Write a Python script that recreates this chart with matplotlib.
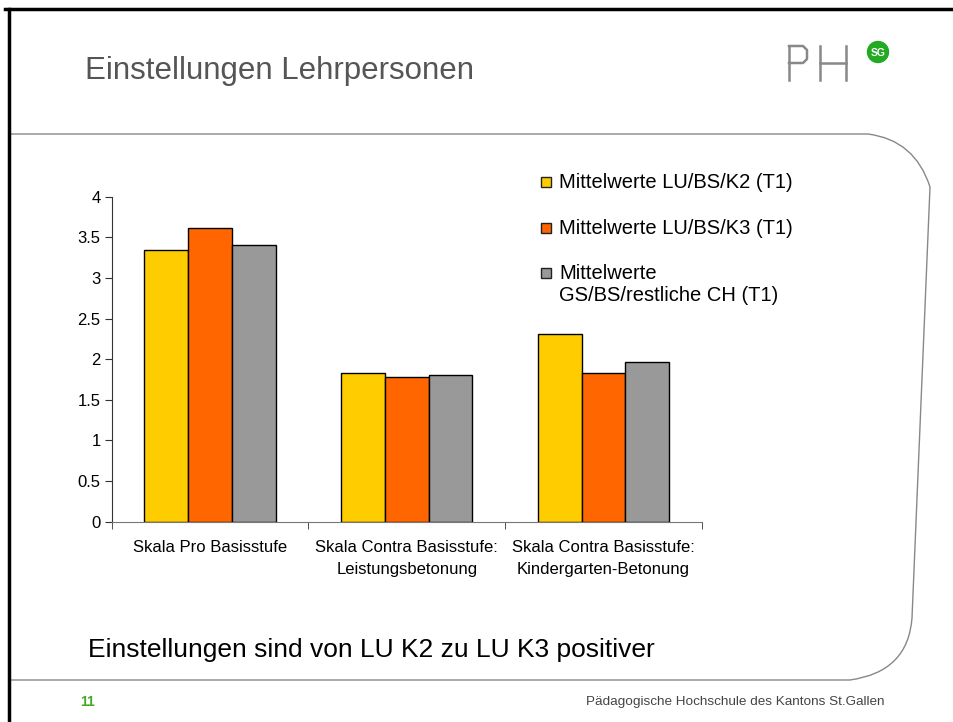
import numpy as np
import matplotlib.pyplot as plt
from matplotlib.patches import Rectangle, Circle
from matplotlib.path import Path
from matplotlib.patches import PathPatch

plt.rcParams['font.family'] = ['Liberation Sans', 'DejaVu Sans']

# data
categories = ['Skala Pro Basisstufe',
              'Skala Contra Basisstufe:\nLeistungsbetonung',
              'Skala Contra Basisstufe:\nKindergarten-Betonung']
series_names = ['Mittelwerte LU/BS/K2 (T1)',
                'Mittelwerte LU/BS/K3 (T1)',
                'Mittelwerte\nGS/BS/restliche CH (T1)']
k2_values = [3.34, 1.83, 2.31]
k3_values = [3.61, 1.78, 1.83]
ch_values = [3.41, 1.81, 1.97]
colors = ['#FFCC00', '#FF6600', '#999999']
y_ticks = [0, 0.5, 1, 1.5, 2, 2.5, 3, 3.5, 4]

fig = plt.figure(figsize=(9.54, 7.22), dpi=100)

# slide frame (pixel coords)
W, H = 954, 722
def fx(x): return x / W
def fy(y): return 1 - y / H

frame = fig.add_axes([0, 0, 1, 1])
frame.set_xlim(0, W)
frame.set_ylim(H, 0)
frame.axis('off')
frame.plot([5, 954], [9, 9], color='black', lw=2.5)
frame.plot([9, 9], [9, 722], color='black', lw=2.5)

verts = [(10, 134), (868, 134),
         (915, 140), (930, 187),
         (912, 618),
         (908, 672), (850, 680),
         (10, 680)]
codes = [Path.MOVETO, Path.LINETO,
         Path.CURVE3, Path.CURVE3,
         Path.LINETO,
         Path.CURVE3, Path.CURVE3,
         Path.LINETO]
frame.add_patch(PathPatch(Path(verts, codes), facecolor='none', edgecolor='#888888', lw=1))

frame.text(85, 71, 'Einstellungen Lehrpersonen', fontsize=22.5, color='#555555', va='center', ha='left')

# PH logo
logo = '#888888'
frame.plot([789, 789], [46, 80], color=logo, lw=1.8)
frame.plot([789, 803, 807, 807, 803, 789], [46, 46, 50, 59, 63, 63], color=logo, lw=1.8)
frame.plot([820, 820], [46, 80], color=logo, lw=1.8)
frame.plot([846, 846], [46, 80], color=logo, lw=1.8)
frame.plot([820, 846], [63, 63], color=logo, lw=1.8)
frame.add_patch(Circle((878, 52), 10.5, color='#22AA22'))
frame.text(878, 52.5, 'SG', fontsize=7.5, color='white', fontweight='bold', va='center', ha='center')

frame.text(88, 650, 'Einstellungen sind von LU K2 zu LU K3 positiver', fontsize=19, color='black', va='center', ha='left')
frame.text(80, 702, '11', fontsize=10, color='#44AA22', fontweight='bold', va='center', ha='left')
frame.text(885, 702, 'Pädagogische Hochschule des Kantons St.Gallen', fontsize=9.7, color='#444444', va='center', ha='right')

# legend (handle aligned with first text line)
legend_rows = [182, 228, 273]
for name, c, yc in zip(series_names, colors, legend_rows):
    frame.add_patch(Rectangle((541, yc - 5), 10, 10, facecolor=c, edgecolor='#222222', lw=1))
    frame.text(559, yc - 9, name, fontsize=14.5, va='top', ha='left', linespacing=1.2)

# chart
ax = fig.add_axes([fx(111.7), fy(521.7), (701.7 - 111.7) / W, (521.7 - 196.7) / H])
ax.patch.set_alpha(0)
x = np.arange(len(categories))
w = 1 / 4.5
for i, vals in enumerate([k2_values, k3_values, ch_values]):
    ax.bar(x + (i - 1) * w, vals, w, color=colors[i], edgecolor='black', linewidth=1, label=series_names[i])

ax.set_xlim(-0.5, len(categories) - 0.5)
ax.set_ylim(0, 4)
ax.set_yticks(y_ticks)
ax.set_yticklabels([f'{t:g}' for t in y_ticks], fontsize=12)
ax.set_xticks(x)
ax.set_xticklabels(categories, fontsize=12, linespacing=1.6)
ax.set_xticks(np.arange(len(categories) + 1) - 0.5, minor=True)
ax.tick_params(axis='x', which='major', length=0, pad=13)
ax.tick_params(axis='x', which='minor', length=5, direction='out', color='#333333')
ax.tick_params(axis='y', length=5, direction='out', color='#333333', pad=3)
for s in ['top', 'right']:
    ax.spines[s].set_visible(False)
ax.spines['left'].set_color('#333333')
ax.spines['bottom'].set_color('#777777')

fig.savefig('out.png', dpi=100)
